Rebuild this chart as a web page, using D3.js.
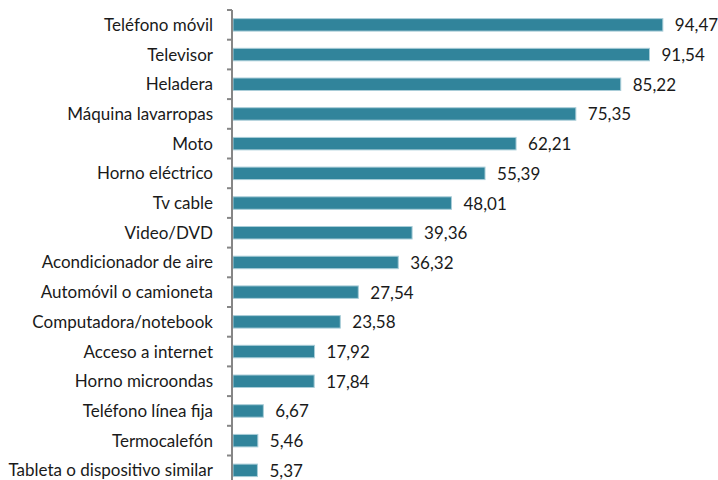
<!DOCTYPE html>
<html lang="es">
<head>
    <meta charset="UTF-8">
    <title>Equipamiento del hogar</title>
    <script src="https://d3js.org/d3.v7.min.js"></script>
    <style>
        body { margin: 0; background: #fff; }
        text { font-family: Lato, "Open Sans", sans-serif; fill: #1a1a1a; }
    </style>
</head>
<body>
    <svg id="chart" width="718" height="480"></svg>
    <script>
        // categorías y porcentajes
        const categories = [
            "Teléfono móvil", "Televisor", "Heladera", "Máquina lavarropas", "Moto",
            "Horno eléctrico", "Tv cable", "Video/DVD", "Acondicionador de aire",
            "Automóvil o camioneta", "Computadora/notebook", "Acceso a internet",
            "Horno microondas", "Teléfono línea fija", "Termocalefón",
            "Tableta o dispositivo similar"
        ]
        const values = [94.47, 91.54, 85.22, 75.35, 62.21, 55.39, 48.01, 39.36,
                        36.32, 27.54, 23.58, 17.92, 17.84, 6.67, 5.46, 5.37]

        const data = categories.map((c, i) => ({ name: c, value: values[i] }))

        const svg = d3.select('#chart')
        const x0 = 232

        const x = d3.scaleLinear()
            .domain([0, 100])
            .range([x0, x0 + 455])

        const y = d3.scaleBand()
            .domain(categories)
            .range([10, 10 + 29.7 * categories.length])
            .paddingInner(0.58)
            .paddingOuter(0.29)

        // barras
        svg.append('g')
            .selectAll('rect')
            .data(data)
            .enter()
            .append('rect')
            .attr('x', x(0) + 1)
            .attr('y', d => y(d.name))
            .attr('width', d => x(d.value) - x(0))
            .attr('height', y.bandwidth())
            .style('fill', '#31849b')
            .style('stroke', '#a9cdd8')
            .style('stroke-width', 1)

        // eje vertical con marcas entre categorías
        const axis = svg.append('g')
        axis.append('line')
            .attr('x1', x0).attr('x2', x0)
            .attr('y1', 10).attr('y2', 10 + 29.7 * categories.length)
            .style('stroke', '#868686')
            .style('stroke-width', 2)
        axis.selectAll('.tick')
            .data(d3.range(categories.length + 1))
            .enter()
            .append('line')
            .attr('x1', x0 - 5).attr('x2', x0)
            .attr('y1', i => 10 + 29.7 * i)
            .attr('y2', i => 10 + 29.7 * i)
            .style('stroke', '#868686')
            .style('stroke-width', 2)

        // etiquetas de categoría
        svg.append('g')
            .selectAll('text')
            .data(data)
            .enter()
            .append('text')
            .attr('x', x0 - 19)
            .attr('y', d => y(d.name) + y.bandwidth() / 2)
            .attr('dy', '0.35em')
            .attr('text-anchor', 'end')
            .style('font-size', '17px')
            .text(d => d.name)

        // valores
        const fmt = d3.formatLocale({ decimal: ',', thousands: '.', grouping: [3], currency: ['', ''] }).format('.2f')
        svg.append('g')
            .selectAll('text')
            .data(data)
            .enter()
            .append('text')
            .attr('x', d => x(d.value) + 13)
            .attr('y', d => y(d.name) + y.bandwidth() / 2)
            .attr('dy', '0.38em')
            .style('font-size', '17px')
            .text(d => fmt(d.value))
    </script>
</body>
</html>
